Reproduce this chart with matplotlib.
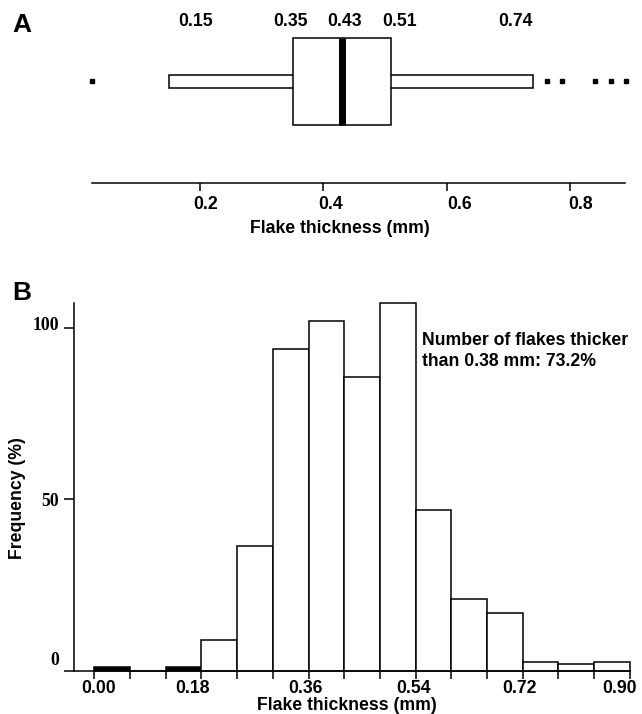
import numpy as np
import matplotlib
matplotlib.use("Agg")
import matplotlib.pyplot as plt
from matplotlib import transforms

# ---------------- data ----------------
# Panel A: box-plot summary of flake thickness (mm)
box_whislo = 0.15
box_q1 = 0.35
box_med = 0.43
box_q3 = 0.51
box_whishi = 0.74
box_fliers = [0.025, 0.763, 0.787, 0.840, 0.866, 0.890]
box_value_labels = ["0.15", "0.35", "0.43", "0.51", "0.74"]
a_ticks = [0.2, 0.4, 0.6, 0.8]
a_ticklabels = ["0.2", "0.4", "0.6", "0.8"]

# Panel B: histogram of flake thickness
bin_edges = [0.00, 0.06, 0.12, 0.18, 0.24, 0.30, 0.36, 0.42, 0.48,
             0.54, 0.60, 0.66, 0.72, 0.78, 0.84, 0.90]
freq = [1.0, 0.0, 1.0, 9.0, 36.5, 93.8, 101.9, 85.7, 107.3,
        46.8, 20.8, 16.8, 2.6, 1.9, 2.6]
b_xticks = [0.00, 0.18, 0.36, 0.54, 0.72, 0.90]
b_xticklabels = ["0.00", "0.18", "0.36", "0.54", "0.72", "0.90"]
b_yticks = [0, 50, 100]
b_yticklabels = ["0", "50", "100"]
annotation = "Number of flakes thicker\nthan 0.38 mm: 73.2%"

# ---------------- style ----------------
W, H = 642, 714
DPI = 100
SANS = ["Liberation Sans", "DejaVu Sans"]
SERIF = ["Liberation Serif", "DejaVu Serif"]
FS = 12.7
LW = 1.1

fig = plt.figure(figsize=(W / DPI, H / DPI), dpi=DPI)

def px_to_fig(x0, y0, x1, y1):
    return [x0 / W, 1 - y1 / H, (x1 - x0) / W, (y1 - y0) / H]

def shift(artist, dx_px=0, dy_px=0):
    artist.set_transform(artist.get_transform() +
                         transforms.ScaledTranslation(dx_px / DPI, dy_px / DPI,
                                                      fig.dpi_scale_trans))

# ================= Panel A =================
# x px = 76.7 + 616.7 * x ; axis at y px 182.7
xa0 = 76.7
xa1 = 76.7 + 616.7 * 0.9
axA = fig.add_axes(px_to_fig(xa0, 0, xa1, 182.7))
axA.set_xlim(0, 0.9)
axA.set_ylim(-101.2, 81.5)   # y units = pixels, box centre at 0
axA.patch.set_alpha(0)

whisk_h = 12.6
box_h = 87.6
axA.barh(0, box_whishi - box_whislo, left=box_whislo, height=whisk_h,
         facecolor="white", edgecolor="black", linewidth=LW, zorder=2)
axA.barh(0, box_q3 - box_q1, left=box_q1, height=box_h,
         facecolor="white", edgecolor="black", linewidth=LW, zorder=3)
axA.vlines(box_med, -box_h / 2, box_h / 2, color="black", linewidth=5.0, zorder=4)
axA.plot(box_fliers, np.full(len(box_fliers), 0.5), linestyle="none", marker="s",
         markersize=2.6, color="black", zorder=4, clip_on=False)

# value labels above the box
stat_vals = [box_whislo, box_q1, box_med, box_q3, box_whishi]
label_dx_px = [26, -2.5, 3, 8, -18]
for v, lab, dx in zip(stat_vals, box_value_labels, label_dx_px):
    t = axA.text(v, 81.5 - 21.7, lab, ha="center", va="center",
                 fontsize=FS, fontweight="bold", family=SANS)
    shift(t, dx)

for s in ["top", "right", "left"]:
    axA.spines[s].set_visible(False)
axA.spines["bottom"].set_bounds(0.024, 0.889)
axA.spines["bottom"].set_linewidth(LW)
axA.set_yticks([])
axA.set_xticks(a_ticks)
axA.set_xticklabels(a_ticklabels, fontsize=FS, fontweight="bold", family=SANS)
axA.tick_params(axis="x", direction="out", length=5.5, width=LW, pad=4)
for lab, dx in zip(axA.get_xticklabels(), [5.7, 7, 13, 11]):
    shift(lab, dx)
axA.set_xlabel("Flake thickness (mm)", fontsize=FS, fontweight="bold", family=SANS)
axA.xaxis.set_label_coords((340 - xa0) / (xa1 - xa0), -(229 - 182.7) / 182.7)
axA.xaxis.label.set_va("center")

fig.text(12 / W, 1 - 24.5 / H, "A", fontsize=19, fontweight="bold",
         family=SANS, ha="left", va="center")

# ================= Panel B =================
x0B = 94.3 - 0.034 * 595
x1B = 94.3 + 0.902 * 595
ytop = 107.3
hB = ytop * 3.427
axB = fig.add_axes(px_to_fig(x0B, 670.7 - hB, x1B, 670.7))
axB.set_xlim(-0.034, 0.902)
axB.set_ylim(0, ytop)
axB.patch.set_alpha(0)

lefts = np.array(bin_edges[:-1])
widths = np.diff(bin_edges)
heights = np.array(freq)
colors = ["black" if 0 < h < 1.5 else "white" for h in heights]
axB.bar(lefts, heights, width=widths, align="edge", facecolor=colors,
        edgecolor="black", linewidth=LW, zorder=2, clip_on=False)

for s in ["top", "right"]:
    axB.spines[s].set_visible(False)
axB.spines["left"].set_linewidth(LW)
axB.spines["bottom"].set_linewidth(LW)
axB.spines["bottom"].set_bounds(-0.034, 0.90)

axB.set_xticks(bin_edges, minor=True)
axB.set_xticks(b_xticks)
axB.set_xticklabels(b_xticklabels, fontsize=FS, fontweight="bold", family=SANS)
axB.tick_params(axis="x", which="both", direction="out", length=5.5, width=LW, pad=1.5)
for lab, dx in zip(axB.get_xticklabels(), [4, -9, -2.6, -1.6, -3.7, -10.5]):
    shift(lab, dx)

axB.set_yticks(b_yticks)
axB.set_yticklabels(b_yticklabels, fontsize=12.8, fontweight="bold", family=SERIF)
axB.tick_params(axis="y", direction="out", length=7, width=LW, pad=4)
for lab, up in zip(axB.get_yticklabels(), [12.7, 0, 5]):
    shift(lab, 0, up)

axB.set_xlabel("Flake thickness (mm)", fontsize=FS, fontweight="bold", family=SANS)
axB.xaxis.set_label_coords((347 - x0B) / (x1B - x0B), -(705.5 - 670.7) / hB)
axB.xaxis.label.set_va("center")
axB.set_ylabel("Frequency (%)", fontsize=FS, fontweight="bold", family=SANS)
axB.yaxis.set_label_coords((18 - x0B) / (x1B - x0B), (670.7 - 498) / hB)
axB.yaxis.label.set_va("center")

fig.text(422 / W, 1 - 351 / H, annotation, fontsize=FS, fontweight="bold",
         family=SANS, ha="left", va="center", linespacing=1.25)
fig.text(12 / W, 1 - 293 / H, "B", fontsize=19, fontweight="bold",
         family=SANS, ha="left", va="center")

fig.savefig("out.png", dpi=DPI, facecolor="white")
